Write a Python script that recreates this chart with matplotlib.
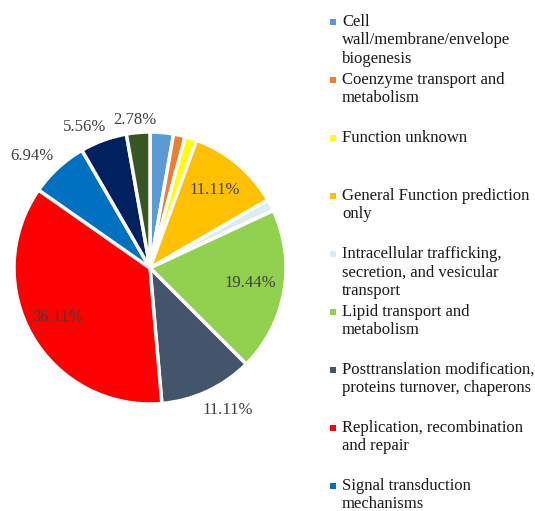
import matplotlib
matplotlib.use("Agg")
import matplotlib.pyplot as plt
import numpy as np

categories = [
    "Cell\nwall/membrane/envelope\nbiogenesis",
    "Coenzyme transport and\nmetabolism",
    "Function unknown",
    "General Function prediction\nonly",
    "Intracellular trafficking,\nsecretion, and vesicular\ntransport",
    "Lipid transport and\nmetabolism",
    "Posttranslation modification,\nproteins turnover, chaperons",
    "Replication, recombination\nand repair",
    "Signal transduction\nmechanisms",
    "Transcription",
    "Translation",
]
percent = [2.78, 1.39, 1.39, 11.11, 1.39, 19.44, 11.11, 36.11, 6.94, 5.56, 2.78]
colors = ["#5B9BD5", "#ED7D31", "#FFFF00", "#FFC000", "#DDEBF7", "#92D050",
          "#44546A", "#FF0000", "#0070C0", "#002060", "#375623"]
shown_labels = ["", "", "", "11.11%", "", "19.44%", "11.11%", "36.11%", "6.94%", "5.56%", "2.78%"]
n_legend = 9

plt.rcParams['font.family'] = ['Liberation Serif', 'DejaVu Serif']

W, H = 535, 511
fig = plt.figure(figsize=(W / 100, H / 100), dpi=100)
cx, cy, r = 150, 268, 136
ax = fig.add_axes([(cx - r - 3) / W, 1 - (cy + r + 3) / H, (2 * r + 6) / W, (2 * r + 6) / H])

wedges, _ = ax.pie(percent, colors=colors, startangle=90, counterclock=False,
                   wedgeprops=dict(edgecolor='white', linewidth=2.5), radius=1.0)
lim = (r + 3) / r
ax.set_xlim(-lim, lim)
ax.set_ylim(-lim, lim)
ax.set_aspect('equal')
ax.axis('off')

# (radius, angular shift in degrees) for each label
label_pos = {3: (0.745, 0), 5: (0.745, 1.5), 6: (1.19, 3.7), 7: (0.77, -2),
             8: (1.2, 4), 9: (1.145, 5), 10: (1.095, 1)}
for i, w in enumerate(wedges):
    if not shown_labels[i]:
        continue
    rr, dth = label_pos[i]
    ang = np.deg2rad((w.theta1 + w.theta2) / 2 + dth)
    ax.text(rr * np.cos(ang), rr * np.sin(ang), shown_labels[i], ha='center', va='center',
            fontsize=12, color='#404040', clip_on=False)

# legend
mx, tx = 333, 342
for i in range(n_legend):
    y = 22 + i * 58
    fig.patches.append(plt.Rectangle(((mx - 3) / W, 1 - (y + 3) / H), 6 / W, 6 / H,
                                     transform=fig.transFigure, facecolor=colors[i],
                                     edgecolor='none'))
    fig.text(tx / W, 1 - (y - 8) / H, categories[i], ha='left', va='top',
             fontsize=12, color='#1a1a1a', linespacing=1.2)

fig.savefig("out.png", dpi=100, facecolor='white')
